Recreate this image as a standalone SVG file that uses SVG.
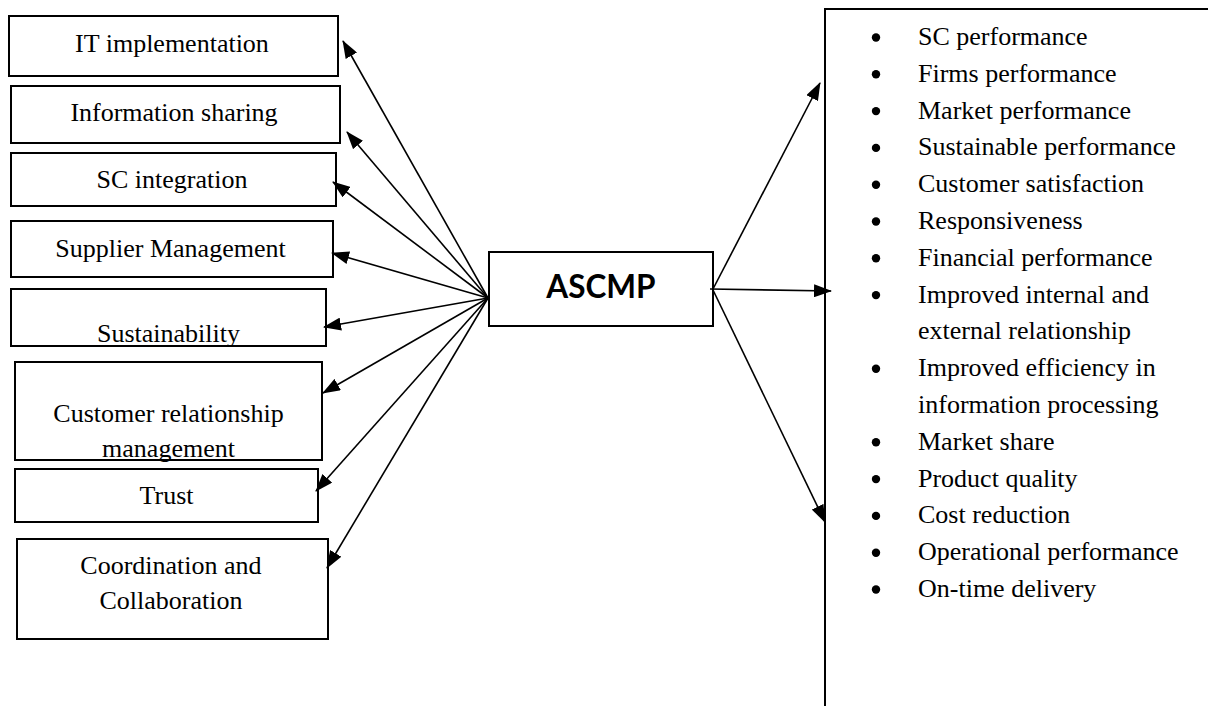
<svg xmlns="http://www.w3.org/2000/svg" width="1208" height="706" viewBox="0 0 1208 706">
<style>
.box{fill:#fff;stroke:#000;stroke-width:2}
.t{font-family:"Liberation Serif","Times New Roman",serif;font-size:26px;fill:#000}
.c{text-anchor:middle}
.main{font-family:Lato,"Open Sans",sans-serif;font-weight:700;font-size:31.5px;text-anchor:middle;fill:#000}
.con line{stroke:#000;stroke-width:1.6;marker-end:url(#ah)}
.b{fill:#000}
</style>
<defs>
<marker id="ah" markerUnits="userSpaceOnUse" markerWidth="18" markerHeight="13" refX="17" refY="6.5" orient="auto" viewBox="0 0 18 13">
<path d="M0,0 L18,6.5 L0,13 Z" fill="#000"/>
</marker>
</defs>
<g id="n-it"><rect class="box" x="9" y="16" width="329" height="60"/><text class="t c" x="172" y="52">IT implementation</text></g>
<g id="n-info"><rect class="box" x="11" y="86" width="329" height="57"/><text class="t c" x="174" y="120.5">Information sharing</text></g>
<g id="n-sci"><rect class="box" x="11" y="153" width="325" height="53"/><text class="t c" x="172" y="187.5">SC integration</text></g>
<g id="n-sup"><rect class="box" x="11" y="221" width="322" height="56"/><text class="t c" x="170.5" y="256.5">Supplier Management</text></g>
<g id="n-sus"><rect class="box" x="11" y="289" width="315" height="57"/><text class="t c" x="168.5" y="342">Sustainability</text></g>
<g id="n-crm"><rect class="box" x="15" y="362" width="307" height="98"/><text class="t c" x="168.5" y="421.5">Customer relationship</text><text class="t c" x="168.5" y="456.5">management</text></g>
<g id="n-trust"><rect class="box" x="15" y="469" width="303" height="53"/><text class="t c" x="166.5" y="504">Trust</text></g>
<g id="n-coord"><rect class="box" x="17" y="539" width="311" height="100"/><text class="t c" x="171" y="574">Coordination and</text><text class="t c" x="171" y="609">Collaboration</text></g>
<g id="n-ascmp"><rect class="box" x="489" y="252" width="224" height="74"/><text class="main" x="601" y="298">ASCMP</text></g>
<g id="n-outcomes">
<rect class="box" x="825" y="9" width="420" height="720"/>
<g class="b">
<circle cx="876" cy="37.5" r="4.2"/>
<circle cx="876" cy="74.3" r="4.2"/>
<circle cx="876" cy="111.1" r="4.2"/>
<circle cx="876" cy="147.9" r="4.2"/>
<circle cx="876" cy="184.7" r="4.2"/>
<circle cx="876" cy="221.5" r="4.2"/>
<circle cx="876" cy="258.3" r="4.2"/>
<circle cx="876" cy="295.1" r="4.2"/>
<circle cx="876" cy="368.7" r="4.2"/>
<circle cx="876" cy="442.3" r="4.2"/>
<circle cx="876" cy="479.1" r="4.2"/>
<circle cx="876" cy="515.9" r="4.2"/>
<circle cx="876" cy="552.7" r="4.2"/>
<circle cx="876" cy="589.5" r="4.2"/>
</g>
<g class="t">
<text x="918" y="45">SC performance</text>
<text x="918" y="81.8">Firms performance</text>
<text x="918" y="118.6">Market performance</text>
<text x="918" y="155.4">Sustainable performance</text>
<text x="918" y="192.2">Customer satisfaction</text>
<text x="918" y="229">Responsiveness</text>
<text x="918" y="265.8">Financial performance</text>
<text x="918" y="302.6">Improved internal and</text>
<text x="918" y="339.4">external relationship</text>
<text x="918" y="376.2">Improved efficiency in</text>
<text x="918" y="413">information processing</text>
<text x="918" y="449.8">Market share</text>
<text x="918" y="486.6">Product quality</text>
<text x="918" y="523.4">Cost reduction</text>
<text x="918" y="560.2">Operational performance</text>
<text x="918" y="597">On-time delivery</text>
</g>
</g>
<g id="connectors" class="con">
<line x1="488" y1="298" x2="343" y2="41"/>
<line x1="488" y1="298" x2="347" y2="132"/>
<line x1="488" y1="298" x2="333" y2="182"/>
<line x1="488" y1="298" x2="332" y2="253"/>
<line x1="488" y1="298" x2="324" y2="327"/>
<line x1="488" y1="298" x2="323" y2="393"/>
<line x1="488" y1="298" x2="316" y2="491"/>
<line x1="488" y1="298" x2="327" y2="568"/>
<line x1="713" y1="289" x2="820" y2="83"/>
<line x1="710" y1="289" x2="831" y2="291"/>
<line x1="713" y1="290" x2="825" y2="522"/>
</g>
</svg>
